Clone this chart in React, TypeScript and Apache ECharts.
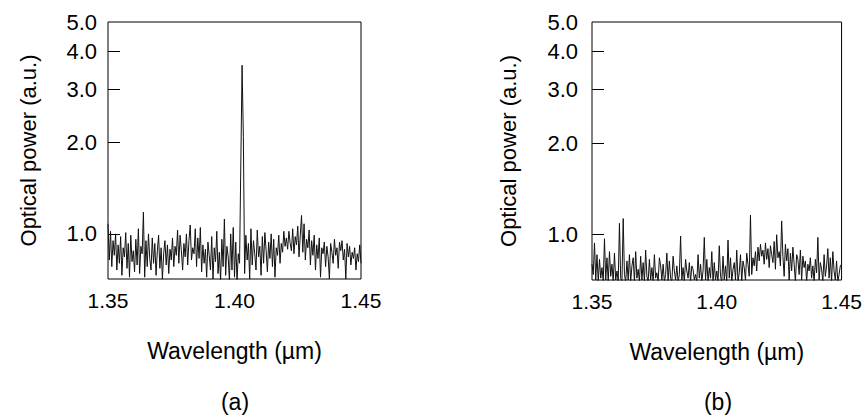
import React, { useEffect, useRef } from "react";
import * as echarts from "echarts";

const WL_START = 1.35;
const WL_STEP = 0.0005;

const xTickValues = [1.35, 1.4, 1.45];
const yTickValues = [1, 2, 3, 4];
const yLabelValues = [1, 2, 3, 4, 5];

// (a) optical power vs wavelength, sampled every 0.5 nm from 1.35 µm
const powerA = [
  1.08, 0.82, 1.02, 0.78, 0.95, 0.85, 1.0, 0.76, 0.92, 0.8,
  0.98, 0.73, 0.9, 0.84, 1.01, 0.77, 0.93, 0.72, 0.99, 0.81,
  0.88, 0.75, 0.96, 0.79, 1.04, 0.74, 0.91, 0.86, 1.18, 0.72,
  0.95, 0.78, 1.0, 0.83, 0.76, 0.97, 0.8, 0.93, 0.73, 0.88,
  0.99, 0.77, 0.9, 0.71, 0.86, 0.95, 0.79, 0.92, 0.74, 0.89,
  0.82, 0.97, 0.78, 0.91, 0.85, 1.03, 0.8, 0.99, 0.88, 0.76,
  0.93, 0.84, 1.0, 0.79, 0.95, 1.07, 0.82, 0.9, 0.86, 1.04,
  0.78, 0.97, 0.83, 1.05, 0.75, 0.92, 0.8, 0.89, 0.72, 0.94,
  0.85, 0.76, 0.98, 0.71, 0.9, 0.81, 1.02, 0.74, 0.87, 0.7,
  0.96, 0.78, 1.12, 0.73, 0.91, 0.84, 0.7, 1.0, 0.76, 1.05,
  0.72, 0.94, 0.7, 0.86, 0.8, 1.7, 3.6, 2.1, 0.74, 0.99,
  0.82, 0.93, 0.71, 1.04, 0.79, 0.95, 0.86, 0.76, 1.03, 0.84,
  0.91, 0.73, 0.98, 0.8, 1.01, 0.88, 0.75, 0.94, 0.83, 1.0,
  0.78, 0.96, 0.72, 0.9, 0.85, 0.99, 0.8, 0.93, 0.87, 1.02,
  0.91, 0.97, 0.89, 1.02, 0.93, 0.88, 1.04, 0.86, 0.98, 0.92,
  1.06, 0.84, 0.99, 1.15, 0.87, 1.08, 0.82, 0.96, 0.9, 1.03,
  0.79, 0.95, 0.85, 0.99, 0.76, 0.92, 0.83, 0.97, 0.72, 0.9,
  0.86, 0.94, 0.78, 0.91, 0.84, 0.71, 0.93, 0.87, 0.8, 0.96,
  0.85, 0.9, 0.77, 0.94, 0.88, 0.95, 0.82, 0.89, 0.71, 0.93,
  0.84, 0.91, 0.79, 0.87, 0.83, 0.9, 0.76, 0.86, 0.81, 0.92,
  0.8,
];

// (b)
const powerB = [
  0.8, 0.74, 0.94, 0.71, 0.86, 0.7, 0.83, 0.72, 0.78, 0.7,
  0.97, 0.71, 0.84, 0.7, 0.88, 0.73, 0.8, 0.7, 0.87, 0.71,
  0.76, 0.7, 1.09, 0.72, 0.7, 1.13, 0.74, 0.7, 0.82, 0.71,
  0.86, 0.7, 0.79, 0.84, 0.7, 0.88, 0.72, 0.77, 0.7, 0.85,
  0.71, 0.81, 0.7, 0.89, 0.73, 0.7, 0.83, 0.71, 0.78, 0.7,
  0.86, 0.72, 0.75, 0.7, 0.84, 0.79, 0.71, 0.8, 0.7, 0.74,
  0.87, 0.7, 0.82, 0.72, 0.7, 0.85, 0.76, 0.71, 0.79, 0.7,
  0.74, 0.99, 0.71, 0.78, 0.7, 0.83, 0.76, 0.72, 0.81, 0.7,
  0.79, 0.77, 0.71, 0.74, 0.7, 0.86, 0.72, 0.8, 0.7, 0.76,
  0.98, 0.71, 0.83, 0.7, 0.78, 0.72, 0.88, 0.7, 0.81, 0.71,
  0.76, 0.7, 0.92, 0.73, 0.7, 0.85, 0.71, 0.79, 0.7, 0.96,
  0.72, 0.84, 0.7, 0.77, 0.81, 0.71, 0.89, 0.7, 0.75, 0.86,
  0.7, 0.82, 0.78, 0.71, 0.87, 0.8, 0.73, 1.16, 0.74, 0.84,
  0.79, 0.88, 0.76, 0.91, 0.82, 0.93, 0.85, 0.89, 0.8, 0.94,
  0.83, 0.9, 0.78, 0.92, 0.86, 0.81, 0.95, 0.77, 1.0, 0.84,
  0.88, 0.79, 1.11, 0.85, 0.73, 0.93, 0.82, 0.9, 0.71, 0.87,
  0.76, 0.91, 0.8, 0.7, 0.86, 0.83, 0.74, 0.89, 0.71, 0.85,
  0.78, 0.82, 0.7, 0.8, 0.76, 0.84, 0.72, 0.79, 0.7, 0.83,
  0.75, 0.98, 0.71, 0.81, 0.77, 0.7, 0.86, 0.73, 0.79, 0.9,
  0.72, 0.84, 0.7, 0.88, 0.76, 0.71, 0.82, 0.7, 0.74, 0.79,
  0.8,
];

const FONT = "Liberation Sans, Arial, sans-serif";

function toPairs(vals: number[]) {
  return vals.map((v, i) => [+(WL_START + i * WL_STEP).toFixed(4), v]);
}

export default function App() {
  const ref = useRef<HTMLDivElement>(null);
  useEffect(() => {
    if (!ref.current) return;
    const chart = echarts.init(ref.current, null, { renderer: "svg" });
    const mkX = (gi: number) => ({
      type: "value",
      gridIndex: gi,
      min: 1.35,
      max: 1.45,
      name: "Wavelength (µm)",
      nameLocation: "middle",
      nameGap: 60,
      nameTextStyle: { color: "#000", fontSize: 23, fontFamily: FONT },
      axisLine: { show: false },
      axisTick: { show: false },
      splitLine: { show: false },
      axisLabel: {
        customValues: xTickValues,
        formatter: (v: number) => v.toFixed(2),
        color: "#000",
        fontSize: 21,
        fontFamily: FONT,
        margin: 11,
      },
    });
    const mkY = (gi: number, gap: number, margin: number) => ({
      type: "log",
      logBase: 10,
      gridIndex: gi,
      min: 0.71,
      max: 5,
      name: "Optical power (a.u.)",
      nameLocation: "middle",
      nameGap: gap,
      nameTextStyle: { color: "#000", fontSize: 22, fontFamily: FONT },
      axisLine: { show: false },
      axisTick: {
        show: true,
        inside: true,
        length: 12,
        customValues: yTickValues,
        lineStyle: { color: "#000", width: 1 },
      },
      splitLine: { show: false },
      minorTick: { show: false },
      axisLabel: {
        customValues: yLabelValues,
        formatter: (v: number) => Number(v).toFixed(1),
        color: "#000",
        fontSize: 22,
        fontFamily: FONT,
        margin: margin,
      },
    });
    chart.setOption({
      animation: false,
      backgroundColor: "#fff",
      grid: [
        { left: 108, top: 22, width: 253, height: 257, show: true, borderColor: "#000", borderWidth: 1, backgroundColor: "transparent" },
        { left: 592, top: 22, width: 252, height: 258, show: true, borderColor: "#000", borderWidth: 1, backgroundColor: "transparent" },
      ],
      xAxis: [mkX(0), mkX(1)],
      yAxis: [mkY(0, 69, 11), mkY(1, 73, 14)],
      series: [
        {
          type: "line",
          xAxisIndex: 0,
          yAxisIndex: 0,
          data: toPairs(powerA),
          showSymbol: false,
          lineStyle: { color: "#111", width: 1 },
          clip: true,
        },
        {
          type: "line",
          xAxisIndex: 1,
          yAxisIndex: 1,
          data: toPairs(powerB),
          showSymbol: false,
          lineStyle: { color: "#111", width: 1 },
          clip: true,
        },
      ],
      graphic: [
        { type: "text", x: 235, y: 402, style: { text: "(a)", fill: "#000", fontSize: 23, fontFamily: FONT, textAlign: "center", textVerticalAlign: "middle" } },
        { type: "text", x: 718, y: 402, style: { text: "(b)", fill: "#000", fontSize: 23, fontFamily: FONT, textAlign: "center", textVerticalAlign: "middle" } },
      ],
    });
    return () => chart.dispose();
  }, []);
  return <div ref={ref} style={{ position: "fixed", left: 0, top: 0, width: 865, height: 417 }} />;
}
